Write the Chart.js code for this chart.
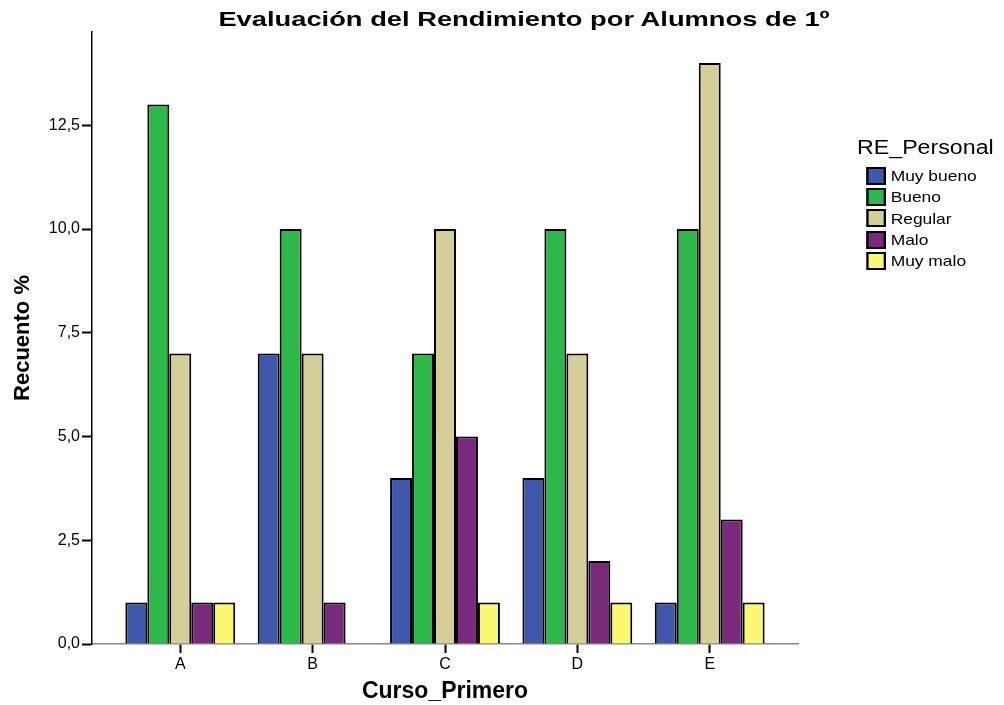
<!DOCTYPE html>
<html>
<head>
<meta charset="utf-8">
<script src="https://cdn.jsdelivr.net/npm/chart.js@4/dist/chart.umd.min.js"></script>
<style>
  body { margin: 0; background: #fff; font-family: "Liberation Sans", Arial, sans-serif; }
  #wrap { position: relative; width: 1004px; height: 705px; }
  #title { position: absolute; top: 7px; left: 524px; white-space: nowrap; font-weight: bold; font-size: 21px; color: #000;
           transform: translateX(-50%) scaleX(1.3); }
  #legend { position: absolute; left: 857px; top: 136px; font-size: 15px; color: #000; transform: scaleX(1.16); transform-origin: left top; }
  #legend .ttl { font-size: 20px; margin-bottom: 6px; }
  #legend .item { display: flex; align-items: center; height: 21.3px; margin-left: 8px; }
  #legend .box { width: 17px; height: 18px; border: 2px solid #000; box-sizing: border-box; margin-right: 4px; }
</style>
</head>
<body>
<div id="wrap">
  <canvas id="chart" width="1004" height="705"></canvas>
  <div id="title">Evaluación del Rendimiento por Alumnos de 1º</div>
  <div id="legend"></div>
</div>
<script>
const cursos = ["A", "B", "C", "D", "E"];
const niveles = ["Muy bueno", "Bueno", "Regular", "Malo", "Muy malo"];
const colores = ["#3F58AB", "#2DB84A", "#D4CF98", "#7A2A7D", "#FAF871"];
const muyBueno = [1, 7, 4, 4, 1];
const bueno = [13, 10, 7, 10, 10];
const regular = [7, 7, 10, 7, 14];
const malo = [1, 1, 5, 2, 3];
const muyMalo = [1, null, 1, 1, 1];
const yTicks = [0, 2.5, 5, 7.5, 10, 12.5];

const series = [muyBueno, bueno, regular, malo, muyMalo];

// legend in html
const legendEl = document.getElementById("legend");
legendEl.innerHTML = '<div class="ttl">RE_Personal</div>' + niveles.map((n, i) =>
  '<div class="item"><span class="box" style="background:' + colores[i] + '"></span>' + n + '</div>'
).join("");

const ctx = document.getElementById("chart").getContext("2d");
new Chart(ctx, {
  type: "bar",
  data: {
    labels: cursos,
    datasets: series.map((data, i) => ({
      label: niveles[i],
      data: data,
      backgroundColor: colores[i],
      borderColor: "#000",
      borderWidth: 2,
      barPercentage: 1,
      categoryPercentage: 0.83,
    })),
  },
  options: {
    responsive: false,
    animation: false,
    layout: { padding: { top: 32, right: 206, left: 0, bottom: 0 } },
    plugins: { legend: { display: false }, tooltip: { enabled: false } },
    scales: {
      x: {
        // extra space on both ends like the original
        afterBuildTicks: (scale) => {
          scale._startValue = -0.667;
          scale._valueRange = cursos.length - 1 + 1.334;
        },
        afterFit: (scale) => { scale.height = 61; },
        grid: { display: true, offset: false, drawOnChartArea: false, tickLength: 9, tickColor: "#000", tickWidth: 2 },
        border: { display: true, color: "#888", width: 1.5 },
        ticks: { color: "#000", font: { family: "Liberation Sans", size: 16 }, padding: 2 },
        title: { display: true, text: "Curso_Primero", color: "#000", font: { family: "Liberation Sans", size: 23, weight: "bold" }, padding: { top: 0, bottom: 0 } },
      },
      y: {
        min: 0,
        max: 14.75,
        afterBuildTicks: (scale) => { scale.ticks = yTicks.map((v) => ({ value: v })); },
        afterFit: (scale) => { scale.width = 92; },
        grid: { display: true, drawOnChartArea: false, tickLength: 10, tickColor: "#000", tickWidth: 2 },
        border: { display: true, color: "#000", width: 1.5 },
        ticks: {
          color: "#000",
          font: { family: "Liberation Sans", size: 16 },
          padding: 2,
          callback: (v) => v.toFixed(1).replace(".", ","),
        },
        title: { display: true, text: "Recuento %", color: "#000", font: { family: "Liberation Sans", size: 22, weight: "bold" }, padding: { top: 10, bottom: 0 } },
      },
    },
  },
});
</script>
</body>
</html>
